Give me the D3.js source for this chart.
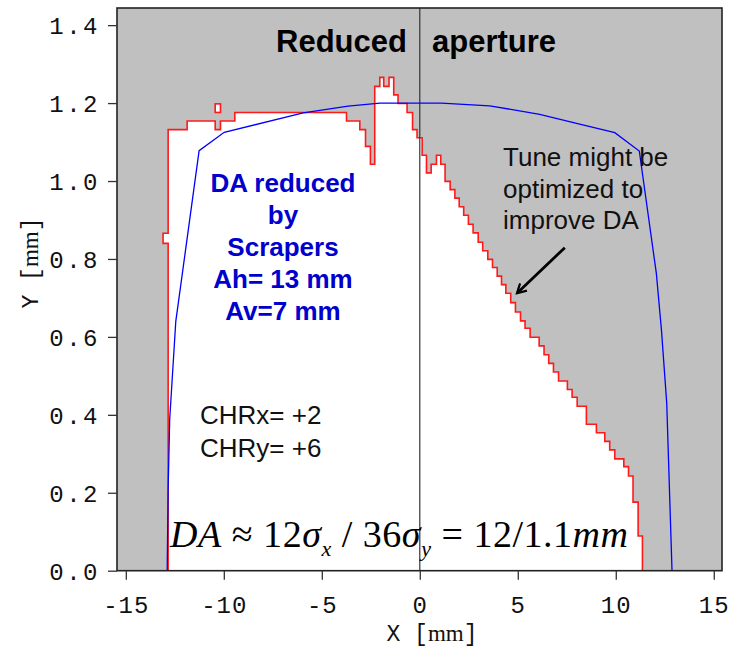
<!DOCTYPE html>
<html>
<head>
<meta charset="utf-8">
<script src="https://cdn.jsdelivr.net/npm/d3@7"></script>
<style>
  body { margin: 0; background: #fff; }
  svg { display: block; }
</style>
</head>
<body>
<svg width="733" height="649"></svg>
<script>
// axis ticks
const xTicks = [-15, -10, -5, 0, 5, 10, 15];
const yTicks = [0.0, 0.2, 0.4, 0.6, 0.8, 1.0, 1.2, 1.4];

// tracked DA boundary (red), left edge then stepped top
const daLeftX = [-12.84, -12.84, -13.10, -13.10, -12.84];
const daLeftY = [0, 0.840, 0.840, 0.866, 0.866];
const daStepX = [-12.84, -11.87, -10.44, -10.17, -9.44, -3.74, -3.06, -2.77, -2.52, -2.30,
  -2.04, -1.84, -1.57, -1.33, -1.11, -0.65, -0.37, -0.14, 0.12, 0.34,
  0.58, 0.85, 1.07, 1.29, 1.55, 1.79, 2.01, 2.24, 2.48, 2.72,
  2.98, 3.21, 3.47, 3.71, 3.95, 4.17, 4.39, 4.64, 4.88, 5.14,
  5.37, 5.63, 6.09, 6.34, 6.58, 6.82, 7.08, 7.53, 7.77, 8.03,
  8.50, 9.01, 9.44, 9.69, 9.95, 10.41, 10.65, 10.88, 11.14, 11.36];
const daStepY = [1.132, 1.154, 1.132, 1.154, 1.176, 1.154, 1.132, 1.089, 1.043, 1.243,
  1.266, 1.243, 1.266, 1.221, 1.199, 1.176, 1.132, 1.111, 1.066, 1.021,
  1.043, 1.066, 1.043, 0.999, 0.978, 0.956, 0.934, 0.912, 0.889, 0.867,
  0.843, 0.821, 0.799, 0.778, 0.756, 0.734, 0.712, 0.688, 0.664, 0.641,
  0.622, 0.599, 0.577, 0.554, 0.532, 0.510, 0.487, 0.465, 0.445, 0.422,
  0.376, 0.354, 0.332, 0.310, 0.287, 0.267, 0.243, 0.176, 0.089, 0];
// small isolated stable cell
const islandX = [-10.44, -10.17];
const islandY = [1.176, 1.198];

// aperture limit (blue)
const apX = [-12.89, -12.84, -12.76, -12.45, -11.96, -11.26, -9.98, -5.95, -3.66, -2.04,
  1.10, 3.57, 6.12, 8.00, 9.95, 11.20, 12.07, 12.33, 12.60, 12.87];
const apY = [0, 0.21, 0.39, 0.64, 0.82, 1.078, 1.125, 1.175, 1.192, 1.200,
  1.200, 1.193, 1.171, 1.148, 1.124, 1.077, 0.763, 0.618, 0.43, 0];

const svg = d3.select('svg');
const plotLeft = 117, plotRight = 722, plotTop = 8, plotBottom = 570.7;

const x = d3.scaleLinear().domain([-15.45, 15.42]).range([plotLeft, plotRight]);
const y = d3.scaleLinear().domain([0, 1.444]).range([plotBottom, plotTop]);

// background
svg.append('rect')
  .attr('x', plotLeft).attr('y', plotTop)
  .attr('width', plotRight - plotLeft).attr('height', plotBottom - plotTop)
  .attr('fill', '#c0c0c0');

// build boundary vertices
const verts = daLeftX.map((v, i) => [v, daLeftY[i]]);
daStepX.forEach((v, i) => {
  if (i > 0) verts.push([v, daStepY[i - 1]]);
  verts.push([v, daStepY[i]]);
});

const line = d3.line().x(d => x(d[0])).y(d => y(d[1]));

svg.append('path')
  .attr('d', line(verts) + 'Z')
  .attr('fill', '#fff');

svg.append('path')
  .attr('d', line(verts))
  .attr('fill', 'none')
  .attr('stroke', '#ff1a1a')
  .attr('stroke-width', 1.6);

svg.append('rect')
  .attr('x', x(islandX[0])).attr('y', y(islandY[1]))
  .attr('width', x(islandX[1]) - x(islandX[0]))
  .attr('height', y(islandY[0]) - y(islandY[1]))
  .attr('fill', '#fff')
  .attr('stroke', '#ff1a1a')
  .attr('stroke-width', 1.6);

// zero line
svg.append('line')
  .attr('x1', x(0)).attr('x2', x(0))
  .attr('y1', plotTop).attr('y2', plotBottom)
  .attr('stroke', '#333').attr('stroke-width', 1.2);

// aperture
svg.append('path')
  .attr('d', line(apX.map((v, i) => [v, apY[i]])))
  .attr('fill', 'none')
  .attr('stroke', '#0000ff')
  .attr('stroke-width', 1.3);

// frame
svg.append('rect')
  .attr('x', plotLeft).attr('y', plotTop)
  .attr('width', plotRight - plotLeft).attr('height', plotBottom - plotTop)
  .attr('fill', 'none')
  .attr('stroke', '#222')
  .attr('stroke-width', 1.6);

// axes
const mono = '"Liberation Mono", "Courier New", monospace';

const xAxis = svg.append('g')
  .attr('transform', `translate(0,${plotBottom})`)
  .call(d3.axisBottom(x).tickValues(xTicks).tickSize(9).tickSizeOuter(0).tickFormat(d3.format('d')));
xAxis.select('.domain').remove();
xAxis.selectAll('line').attr('stroke', '#333').attr('stroke-width', 1.3);
xAxis.selectAll('text')
  .attr('y', 0).attr('dy', 42)
  .attr('font-family', mono).attr('font-size', 24)
  .attr('letter-spacing', 1).attr('fill', '#111')
  .text(d => String(d).replace('\u2212', '-'));

const yAxis = svg.append('g')
  .attr('transform', `translate(${plotLeft},0)`)
  .call(d3.axisLeft(y).tickValues(yTicks).tickSize(9).tickSizeOuter(0).tickFormat(d3.format('.1f')));
yAxis.select('.domain').remove();
yAxis.selectAll('line').attr('stroke', '#333').attr('stroke-width', 1.3);
yAxis.selectAll('text')
  .attr('x', -17).attr('dy', '0.35em')
  .attr('font-family', mono).attr('font-size', 24)
  .attr('letter-spacing', 2.5).attr('fill', '#111');

// axis titles
const xt = svg.append('text')
  .attr('x', 432).attr('y', 641)
  .attr('text-anchor', 'middle')
  .attr('font-size', 23).attr('fill', '#111');
xt.append('tspan').attr('font-family', mono).text('X [');
xt.append('tspan').attr('font-family', '"Liberation Serif", serif').text('mm');
xt.append('tspan').attr('font-family', mono).text(']');

const yt = svg.append('text')
  .attr('transform', 'translate(38,263) rotate(-90)')
  .attr('text-anchor', 'middle')
  .attr('font-size', 23).attr('fill', '#111');
yt.append('tspan').attr('font-family', mono).text('Y [');
yt.append('tspan').attr('font-family', '"Liberation Serif", serif').text('mm');
yt.append('tspan').attr('font-family', mono).text(']');

// annotations
const sans = '"Liberation Sans", Arial, sans-serif';

svg.append('text').attr('x', 276).attr('y', 52)
  .attr('font-family', sans).attr('font-weight', 'bold').attr('font-size', 31)
  .text('Reduced');
svg.append('text').attr('x', 432).attr('y', 52)
  .attr('font-family', sans).attr('font-weight', 'bold').attr('font-size', 31)
  .text('aperture');

const blueLines = ['DA reduced', 'by', 'Scrapers', 'Ah= 13 mm', 'Av=7 mm'];
svg.append('g').selectAll('text')
  .data(blueLines)
  .enter().append('text')
    .attr('x', 283).attr('y', (d, i) => 192 + i * 32)
    .attr('text-anchor', 'middle')
    .attr('font-family', sans).attr('font-weight', 'bold').attr('font-size', 26)
    .attr('fill', '#0000cc')
    .text(d => d);

const tuneLines = ['Tune might be', 'optimized to', 'improve DA'];
svg.append('g').selectAll('text')
  .data(tuneLines)
  .enter().append('text')
    .attr('x', 503).attr('y', (d, i) => 166 + i * 31.5)
    .attr('font-family', sans).attr('font-size', 26)
    .attr('fill', '#111')
    .text(d => d);

const chrLines = ['CHRx= +2', 'CHRy= +6'];
svg.append('g').selectAll('text')
  .data(chrLines)
  .enter().append('text')
    .attr('x', 200).attr('y', (d, i) => 424 + i * 33)
    .attr('font-family', sans).attr('font-size', 26)
    .attr('fill', '#111')
    .text(d => d);

// arrow
svg.append('defs').append('marker')
  .attr('id', 'arrowhead')
  .attr('viewBox', '-10 -6 12 12')
  .attr('refX', 0).attr('refY', 0)
  .attr('markerWidth', 12).attr('markerHeight', 12)
  .attr('markerUnits', 'userSpaceOnUse')
  .attr('orient', 'auto')
  .append('path')
    .attr('d', 'M-9,-5L0,0L-9,5')
    .attr('fill', 'none').attr('stroke', '#000').attr('stroke-width', 2.2);

svg.append('line')
  .attr('x1', x(7.40)).attr('y1', y(0.829))
  .attr('x2', x(4.96)).attr('y2', y(0.712))
  .attr('stroke', '#000').attr('stroke-width', 2.8)
  .attr('marker-end', 'url(#arrowhead)');

// formula
const serif = '"Liberation Serif", "Times New Roman", serif';
const f = svg.append('text')
  .attr('x', 170).attr('y', 547)
  .attr('font-family', serif).attr('font-size', 38)
  .attr('textLength', 458).attr('lengthAdjust', 'spacing')
  .attr('fill', '#000');
f.append('tspan').attr('font-style', 'italic').text('DA');
f.append('tspan').text(' \u2248 12');
f.append('tspan').attr('font-style', 'italic').text('\u03c3');
f.append('tspan').attr('font-style', 'italic').attr('font-size', 22).attr('dy', 9).text('x');
f.append('tspan').attr('dy', -9).text(' / 36');
f.append('tspan').attr('font-style', 'italic').text('\u03c3');
f.append('tspan').attr('font-style', 'italic').attr('font-size', 22).attr('dy', 9).text('y');
f.append('tspan').attr('dy', -9).text(' = 12/1.1');
f.append('tspan').attr('font-style', 'italic').text('mm');
</script>
</body>
</html>
